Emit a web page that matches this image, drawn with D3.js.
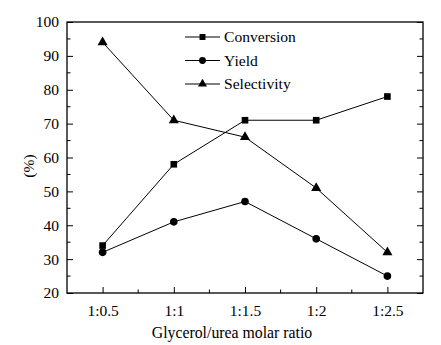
<!DOCTYPE html>
<html>
<head>
<meta charset="utf-8">
<script src="https://cdn.jsdelivr.net/npm/d3@7"></script>
<style>
  body { margin: 0; background: #fff; }
  text { font-family: "Liberation Serif", "Times New Roman", serif; fill: #000; }
</style>
</head>
<body>
<div id="chart"></div>
<script>
// chart data
var ratios = ["1:0.5", "1:1", "1:1.5", "1:2", "1:2.5"];
var conversion = [34, 58, 71, 71, 78];
var yieldVals = [32, 41, 47, 36, 25];
var selectivity = [94, 71, 66, 51, 32];
var seriesNames = ["Conversion", "Yield", "Selectivity"];
var yTicks = [20, 30, 40, 50, 60, 70, 80, 90, 100];

var width = 441, height = 345;
var margin = {top: 22, right: 18, bottom: 52, left: 67};

var svg = d3.select("#chart").append("svg")
    .attr("width", width)
    .attr("height", height);

var plotW = width - margin.left - margin.right,
    plotH = height - margin.top - margin.bottom;

var g = svg.append("g")
    .attr("transform", "translate(" + margin.left + "," + margin.top + ")");

// scales
var x = d3.scalePoint()
    .domain(ratios)
    .range([0, plotW])
    .padding(0.5);

var y = d3.scaleLinear()
    .domain([20, 100])
    .range([plotH, 0]);

// minor ticks helpers
var step = x.step();
var xMinor = ratios.slice(0, -1).map(function (d) { return x(d) + step / 2; });
var yMinor = d3.range(25, 100, 10);

// frame
g.append("rect")
    .attr("width", plotW)
    .attr("height", plotH)
    .attr("fill", "none")
    .attr("stroke", "#000")
    .attr("stroke-width", 1.3);

// y axis left
var yAxis = d3.axisLeft(y).tickValues(yTicks).tickSize(-6).tickPadding(8);
var yG = g.append("g").call(yAxis);
yG.select(".domain").remove();
yG.selectAll("text").attr("font-size", 15.5).style("font-family", "Liberation Serif");

// right ticks
var yR = g.append("g")
    .attr("transform", "translate(" + plotW + ",0)")
    .call(d3.axisRight(y).tickValues(yTicks).tickSize(-6).tickFormat(""));
yR.select(".domain").remove();

// minor y ticks
[0, plotW].forEach(function (x0, k) {
    g.selectAll(".ymin" + k)
        .data(yMinor)
        .enter().append("line")
        .attr("x1", x0)
        .attr("x2", k === 0 ? x0 + 3.5 : x0 - 3.5)
        .attr("y1", function (d) { return y(d); })
        .attr("y2", function (d) { return y(d); })
        .attr("stroke", "#000");
});

// x axis
var xAxis = d3.axisBottom(x).tickSize(-6).tickPadding(12);
var xG = g.append("g")
    .attr("transform", "translate(0," + plotH + ")")
    .call(xAxis);
xG.select(".domain").remove();
xG.selectAll("text").attr("font-size", 15.5).style("font-family", "Liberation Serif");

g.selectAll(".xmin")
    .data(xMinor)
    .enter().append("line")
    .attr("x1", function (d) { return d; })
    .attr("x2", function (d) { return d; })
    .attr("y1", plotH)
    .attr("y2", plotH - 3.5)
    .attr("stroke", "#000");

// axis labels
svg.append("text")
    .attr("transform", "translate(34,166) rotate(-90)")
    .attr("text-anchor", "middle")
    .attr("font-size", 15.5)
    .text("(%)");

svg.append("text")
    .attr("x", 232)
    .attr("y", 338)
    .attr("text-anchor", "middle")
    .attr("font-size", 15.8)
    .text("Glycerol/urea molar ratio");

// lines and markers
var allSeries = [conversion, yieldVals, selectivity];
var symbols = [d3.symbolSquare, d3.symbolCircle, d3.symbolTriangle];
var symSizes = [44, 46, 44];

var line = d3.line()
    .x(function (d, i) { return x(ratios[i]); })
    .y(function (d) { return y(d); });

allSeries.forEach(function (s, k) {
    g.append("path")
        .datum(s)
        .attr("d", line)
        .attr("fill", "none")
        .attr("stroke", "#000")
        .attr("stroke-width", 1);

    g.selectAll(".m" + k)
        .data(s)
        .enter().append("path")
        .attr("class", "m" + k)
        .attr("transform", function (d, i) {
            return "translate(" + x(ratios[i]) + "," + y(d) + ")";
        })
        .attr("d", d3.symbol().type(symbols[k]).size(symSizes[k]))
        .attr("fill", "#000");
});

// legend
var legend = svg.selectAll(".legend")
    .data(seriesNames)
    .enter().append("g")
    .attr("class", "legend")
    .attr("transform", function (d, i) {
        return "translate(185," + (37 + i * 23.5) + ")";
    });

legend.append("line")
    .attr("x1", 0)
    .attr("x2", 35)
    .attr("stroke", "#000");

legend.append("path")
    .attr("transform", "translate(17.5,0)")
    .attr("d", function (d, i) { return d3.symbol().type(symbols[i]).size(symSizes[i] * 0.8)(); })
    .attr("fill", "#000");

legend.append("text")
    .attr("x", 39)
    .attr("dy", "0.35em")
    .attr("font-size", 15.6)
    .text(function (d) { return d; });
</script>
</body>
</html>
